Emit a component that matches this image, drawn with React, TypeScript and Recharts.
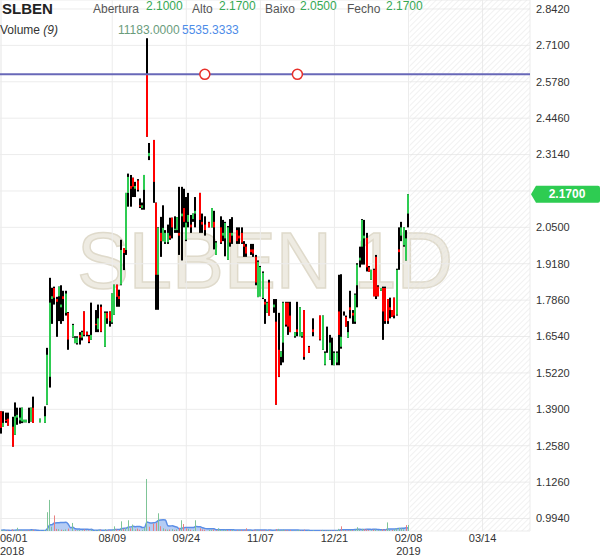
import React from 'react';
import {
  ComposedChart, Bar, Area, XAxis, YAxis, CartesianGrid,
  ReferenceLine, ReferenceDot, ReferenceArea, Label,
} from 'recharts';

// daily OHLC, null = no trades that day
const opens = [
  1.383, 1.326, 1.352, 1.356, null, 1.327, 1.298, 1.36, 1.35, 1.346,
  1.343, 1.343, 1.35, 1.346, 1.396, null, null, 1.343, null, 1.341,
  1.407, 1.508, 1.79, 1.83, 1.79, 1.80, 1.76, 1.80, 1.74, 1.74,
  null, 1.652, 1.63, 1.63, 1.66, 1.65, 1.745, 1.67, 1.655, 1.642,
  null, 1.70, 1.68, 1.762, null, 1.617, 1.74, 1.745, 1.705, 1.733,
  1.842, 1.80, 1.842, 1.975, 1.968, 2.175, 2.20, 2.23, 2.19, 2.22,
  2.13, 2.12, 2.186, 2.603, 2.308, null, 2.367, 2.139, 1.878, 2.03,
  2.00, 1.996, 1.996, 2.02, 2.085, 2.04, 2.04, 2.03, 2.09, 2.12,
  2.005, 2.07, 2.06, 2.08, 2.10, null, 2.175, 2.07, 2.06, null,
  2.068, 2.05, 2.07, 1.95, null, 2.05, 2.02, 2.01, 1.932, 2.03,
  2.02, null, 2.04, 2.02, 2.03, 1.99, 1.98, null, 1.97, 1.97,
  1.943, 1.797, 1.80, 1.794, 1.78, 1.74, 1.85, null, 1.76, 1.708,
  1.606, 1.58, 1.632, 1.777, 1.777, 1.73, null, 1.655, 1.68, 1.655,
  1.655, 1.75, null, 1.617, null, 1.68, null, null, 1.73, 1.606,
  1.552, 1.63, 1.57, 1.60, 1.55, 1.56, 1.745, 1.617, 1.74, 1.725,
  1.65, 1.76, 1.74, 1.708, 1.84, 1.93, 1.98, 2.01, 2.012, 1.905,
  1.86, 1.896, 1.943, 1.835, 1.82, 1.83, 1.83, 1.79, 1.76, 1.75,
  1.795, 1.733, 1.97, 2.02, 1.985, 1.93, 2.10,
];
const highs = [
  1.383, 1.383, 1.378, 1.378, null, 1.363, 1.415, 1.396, 1.396, 1.396,
  1.352, 1.352, 1.396, 1.396, 1.436, null, null, 1.356, null, 1.401,
  1.613, 1.867, 1.831, 1.835, 1.798, 1.835, 1.84, 1.82, 1.82, 1.743,
  null, 1.70, 1.655, 1.655, 1.67, 1.675, 1.745, 1.672, 1.66, 1.777,
  null, 1.75, 1.77, 1.77, null, 1.745, 1.745, 1.745, 1.81, 1.842,
  1.842, 1.824, 2.005, 1.975, 2.175, 2.245, 2.24, 2.23, 2.215, 2.225,
  2.155, 2.14, 2.24, 2.736, 2.356, null, 2.367, 2.14, 2.05, 2.088,
  2.13, 2.04, 2.06, 2.085, 2.085, 2.09, 2.087, 2.197, 2.197, 2.19,
  2.16, 2.175, 2.095, 2.10, 2.16, null, 2.175, 2.10, 2.09, null,
  2.07, 2.12, 2.11, 2.0, null, 2.09, 2.077, 2.07, 2.055, 2.08,
  2.087, null, 2.05, 2.05, 2.05, 2.0, 1.99, null, 1.99, 1.99,
  1.95, 1.93, 1.91, 1.89, 1.79, 1.78, 1.86, null, 1.79, 1.79,
  1.74, 1.60, 1.78, 1.78, 1.78, 1.78, null, 1.67, 1.78, 1.76,
  1.67, 1.75, null, 1.62, null, 1.72, null, null, 1.73, 1.73,
  1.60, 1.69, 1.66, 1.65, 1.60, 1.60, 1.878, 1.88, 1.745, 1.73,
  1.71, 1.82, 1.75, 1.81, 1.92, 1.98, 2.08, 2.077, 2.03, 1.91,
  1.896, 1.90, 1.95, 1.84, 1.83, 1.835, 1.835, 1.79, 1.795, 1.75,
  1.795, 1.90, 2.05, 2.07, 2.05, 2.04, 2.17,
];
const lows = [
  1.302, 1.326, 1.341, 1.331, null, 1.255, 1.298, 1.334, 1.338, 1.34,
  1.343, 1.343, 1.34, 1.346, 1.341, null, null, 1.343, null, 1.341,
  1.407, 1.469, 1.70, 1.77, 1.653, 1.71, 1.70, 1.71, 1.73, 1.606,
  null, 1.65, 1.63, 1.625, 1.625, 1.64, 1.655, 1.655, 1.63, 1.642,
  null, 1.67, 1.67, 1.67, null, 1.617, 1.70, 1.69, 1.70, 1.733,
  1.762, 1.762, 1.84, 1.895, 1.95, 2.125, 2.125, 2.16, 2.16, 2.18,
  2.12, 2.114, 2.114, 2.379, 2.294, null, 2.139, 1.751, 1.751, 1.943,
  2.00, 1.99, 1.99, 2.005, 2.01, 2.03, 2.03, 1.95, 1.93, 2.05,
  2.0, 2.05, 2.03, 2.07, 2.05, null, 2.03, 2.03, 2.02, null,
  2.05, 2.05, 1.97, 1.95, null, 1.99, 2.0, 1.945, 1.932, 1.98,
  1.99, null, 1.99, 1.99, 1.99, 1.943, 1.943, null, 1.95, 1.943,
  1.84, 1.797, 1.80, 1.79, 1.70, 1.74, 1.73, null, 1.74, 1.407,
  1.507, 1.55, 1.56, 1.69, 1.66, 1.67, null, 1.65, 1.655, 1.655,
  1.65, 1.57, null, 1.595, null, 1.655, null, null, 1.64, 1.606,
  1.55, 1.595, 1.57, 1.55, 1.55, 1.55, 1.55, 1.61, 1.73, 1.69,
  1.65, 1.72, 1.70, 1.70, 1.76, 1.905, 1.915, 1.915, 1.89, 1.889,
  1.86, 1.80, 1.79, 1.80, 1.82, 1.642, 1.70, 1.70, 1.72, 1.725,
  1.72, 1.73, 1.896, 2.0, 1.98, 1.93, 2.05,
];
const closes = [
  1.323, 1.341, 1.348, 1.331, null, 1.255, 1.365, 1.37, 1.36, 1.396,
  1.352, 1.352, 1.35, 1.396, 1.341, null, null, 1.356, null, 1.365,
  1.588, 1.777, 1.80, 1.795, 1.78, 1.835, 1.77, 1.79, 1.81, 1.643,
  null, 1.696, 1.65, 1.65, 1.65, 1.67, 1.66, 1.66, 1.635, 1.66,
  null, 1.695, 1.72, 1.672, null, 1.74, 1.72, 1.71, 1.81, 1.842,
  1.798, 1.79, 1.968, 1.957, 2.175, 2.233, 2.19, 2.197, 2.20, 2.186,
  2.125, 2.13, 2.24, 2.379, 2.32, null, 2.215, 1.878, 2.048, 2.00,
  2.048, 2.03, 2.03, 2.01, 2.05, 2.045, 2.087, 2.02, 2.10, 2.07,
  2.067, 2.095, 2.05, 2.10, 2.11, null, 2.077, 2.06, 2.04, null,
  2.05, 2.12, 2.05, 1.995, null, 1.995, 2.03, 2.066, 2.05, 1.995,
  2.03, null, 2.0, 2.01, 1.995, 1.98, 1.955, null, 1.96, 1.955,
  1.85, 1.925, 1.906, 1.885, 1.77, 1.777, 1.73, null, 1.77, 1.407,
  1.508, 1.60, 1.777, 1.697, 1.69, 1.67, null, 1.67, 1.67, 1.76,
  1.67, 1.58, null, 1.595, null, 1.67, null, null, 1.643, 1.73,
  1.595, 1.63, 1.632, 1.60, 1.595, 1.595, 1.66, 1.653, 1.74, 1.69,
  1.67, 1.75, 1.73, 1.806, 1.915, 1.94, 2.077, 2.02, 1.905, 1.889,
  1.896, 1.80, 1.80, 1.80, 1.83, 1.745, 1.71, 1.71, 1.75, 1.725,
  1.73, 1.896, 1.96, 2.05, 2.05, 2.01, 2.17,
];
const volumes = [
  1500, 2200, 900, 1200, 0, 3000, 1800, 6000, 1200, 2000,
  800, 700, 1500, 1900, 2500, 0, 0, 600, 0, 1800,
  35000, 58000, 8000, 29000, 4000, 3500, 2500, 2000, 3000, 4500,
  0, 15000, 1500, 1200, 1800, 1400, 3000, 900, 1100, 2600,
  0, 1500, 2200, 2500, 0, 3500, 1200, 1500, 2500, 8700,
  3000, 2000, 18000, 4000, 6000, 20000, 5000, 12000, 3000, 4500,
  2500, 2000, 6000, 97000, 8000, 0, 14000, 15000, 33000, 9000,
  5000, 3000, 2500, 2800, 3500, 2000, 3000, 6000, 20000, 13000,
  5000, 4000, 2500, 2000, 20000, 0, 5000, 3000, 2500, 0,
  2000, 2500, 3000, 1500, 5000, 2000, 1500, 2500, 2000, 1800,
  2200, 0, 1500, 1200, 2000, 1800, 5000, 0, 1200, 1500,
  2500, 2000, 1800, 1500, 2200, 1200, 1800, 0, 1000, 3500,
  4000, 1500, 2500, 1800, 1500, 2000, 0, 800, 1500, 2000,
  900, 2500, 0, 1000, 0, 1200, 0, 0, 1500, 2000,
  1000, 1200, 1500, 1000, 900, 1100, 4000, 8700, 1500, 1800,
  1200, 2000, 1500, 2500, 7000, 3000, 4000, 3500, 3000, 1500,
  1200, 2500, 3000, 1500, 800, 3500, 3000, 16000, 2500, 2000,
  3000, 5000, 6000, 5000, 3000, 11000, 11183,
];

const dateTicks = [0, 48, 80, 112, 144, 176, 208];
const dateLabels = ['06/01', '08/09', '09/24', '11/07', '12/21', '02/08', '03/14'];
const yearLabels = ['2018', '', '', '', '', '2019', ''];
const priceTicks = [0.994, 1.126, 1.258, 1.39, 1.522, 1.654, 1.786, 1.918, 2.05, 2.182, 2.314, 2.446, 2.578, 2.71, 2.842];
const SLOTS = 229;
const levelLine = 2.605;
const levelHandles = [88, 128];
const lastPrice = 2.17;

const GREEN = '#2ecc52';
const HEAD_GREEN = '#35a853';

// 9-period moving average of volume (the "Volume (9)" indicator)
const volMA = volumes.map((_, i) => {
  const win = volumes.slice(Math.max(0, i - 8), i + 1);
  return win.reduce((a, b) => a + b, 0) / win.length;
});

const rows = Array.from({ length: SLOTS }, (_, i) => {
  const has = i < opens.length && opens[i] != null;
  let prev: number | null = null;
  for (let j = i - 1; j >= 0; j--) {
    if (closes[j] != null) { prev = closes[j] as number; break; }
  }
  return {
    i,
    open: has ? opens[i] : null,
    high: has ? highs[i] : null,
    low: has ? lows[i] : null,
    close: has ? closes[i] : null,
    vol: i < volumes.length ? volumes[i] : null,
    ma: i < volumes.length ? volMA[i] : null,
    up: has && prev != null ? (closes[i] as number) >= prev : true,
  };
});

const Candle = (props: any) => {
  const { payload } = props;
  let { y, height } = props;
  if (payload.high == null) return null;
  const x = Math.round(props.x);
  if (height < 0) { y += height; height = -height; }
  const range = payload.high - payload.low;
  const k = range > 0 ? height / range : 0;
  const yo = y + (payload.high - payload.open) * k;
  const yc = y + (payload.high - payload.close) * k;
  const top = Math.min(yo, yc);
  const h = Math.abs(yo - yc);
  const col = payload.close > payload.open ? GREEN : '#ff0000';
  return (
    <g>
      <rect x={x} y={y} width={2} height={Math.max(height, 1)} fill="#000" />
      {h >= 0.6 && <rect x={x} y={top} width={2} height={h} fill={col} />}
    </g>
  );
};

const VolBar = (props: any) => {
  const { x, y, width, height, payload } = props;
  if (!payload.vol) return null;
  return <rect x={Math.round(x + width / 2 - 0.5)} y={y} width={1} height={Math.max(height, 1)} fill={payload.up ? '#7fc497' : '#e88080'} />;
};

const DateTick = (props: any) => {
  const { x, y, payload } = props;
  const k = dateTicks.indexOf(payload.value);
  if (k < 0) return null;
  const first = k === 0;
  return (
    <g>
      <text x={first ? 0 : x} y={y + 11} textAnchor={first ? 'start' : 'middle'} fontSize={11} fill="#333">{dateLabels[k]}</text>
      {yearLabels[k] && (
        <text x={first ? 0 : x} y={y + 24} textAnchor={first ? 'start' : 'middle'} fontSize={11} fill="#333">{yearLabels[k]}</text>
      )}
    </g>
  );
};

const PriceTag = (props: any) => {
  const vb = props.viewBox || {};
  const x = vb.x + vb.width + 1;
  const y = vb.y;
  return (
    <g>
      <path d={`M${x} ${y} L${x + 5} ${y - 8.5} H${x + 67} Q${x + 69} ${y - 8.5} ${x + 69} ${y - 6.5} V${y + 6.5} Q${x + 69} ${y + 8.5} ${x + 67} ${y + 8.5} H${x + 5} Z`} fill={GREEN} />
      <text x={x + 36} y={y + 4} textAnchor="middle" fontSize={12} fontWeight="bold" fill="#fff">{lastPrice.toFixed(4)}</text>
    </g>
  );
};

export default function App() {
  return (
    <div style={{ position: 'absolute', left: 0, top: 0, width: 600, height: 558, background: '#fff', overflow: 'hidden', fontFamily: '"Liberation Sans", Arial, sans-serif' }}>
      <svg width={600} height={558} style={{ position: 'absolute', left: 0, top: 0 }}>
        <text x={77} y={288} fontSize={80} fill="#eeebe2" stroke="#dfdacb" strokeWidth={1.5} textLength={376} lengthAdjust="spacingAndGlyphs">SLBEN 1D</text>
      </svg>
      <div style={{ position: 'absolute', left: 0, top: 0 }}>
        <ComposedChart width={600} height={558} data={rows} margin={{ top: 0, right: 0, bottom: 0, left: 0 }}>
          <defs>
            <pattern id="hatch" width="4" height="4" patternUnits="userSpaceOnUse" patternTransform="rotate(45)">
              <line x1="0" y1="0" x2="0" y2="4" stroke="#e4e4e4" strokeWidth="1" />
            </pattern>
          </defs>
          <XAxis xAxisId="p" dataKey="i" type="category" height={27} ticks={dateTicks} interval={0}
            tick={<DateTick />} tickLine={false} axisLine={false} tickSize={0} tickMargin={0} />
          <XAxis xAxisId="v" dataKey="i" type="category" hide />
          <YAxis yAxisId="p" orientation="right" width={70} domain={[0.9487, 2.8746]} allowDataOverflow
            ticks={priceTicks} interval={0} axisLine={false} tickLine={false} tickSize={4} tickMargin={2}
            tick={{ fill: '#333', fontSize: 11 }}
            tickFormatter={(v: number) => (Math.abs(v - 2.182) < 1e-6 ? '' : v.toFixed(4))} />
          <YAxis yAxisId="v" hide domain={[0, 990000]} allowDataOverflow />
          <ReferenceArea xAxisId="p" yAxisId="p" x1={177} x2={228} fill="url(#hatch)" fillOpacity={1} stroke="none" />
          <CartesianGrid xAxisId="p" yAxisId="p" stroke="#ececec" />
          <Area xAxisId="v" yAxisId="v" dataKey="ma" type="monotone" stroke="#5b8ee6" strokeWidth={1.5}
            fill="#a8c3f2" fillOpacity={0.85} dot={false} activeDot={false} isAnimationActive={false} />
          <Bar xAxisId="v" yAxisId="v" dataKey="vol" barSize={2} shape={VolBar} isAnimationActive={false} />
          <Bar xAxisId="p" yAxisId="p" dataKey={(d: any) => (d.high == null ? null : [d.low, d.high])}
            barSize={2} shape={Candle} isAnimationActive={false} />
          <ReferenceLine xAxisId="p" yAxisId="p" y={levelLine} stroke="#6868b8" strokeWidth={2} />
          {levelHandles.map((h) => (
            <ReferenceDot key={h} xAxisId="p" yAxisId="p" x={h} y={levelLine} r={5} fill="#fff" stroke="#e8302a" strokeWidth={1.5} />
          ))}
          <ReferenceLine xAxisId="p" yAxisId="p" y={lastPrice} stroke="none">
            <Label content={<PriceTag />} />
          </ReferenceLine>
        </ComposedChart>
      </div>
      <svg width={600} height={40} style={{ position: 'absolute', left: 0, top: 0, pointerEvents: 'none' }}>
        <text x={2} y={14} fontSize={15} fontWeight="bold" fill="#222">SLBEN</text>
        <text x={93} y={13} fontSize={12} fill="#555">Abertura</text>
        <text x={146} y={10} fontSize={12} fill={HEAD_GREEN}>2.1000</text>
        <text x={192} y={13} fontSize={12} fill="#555">Alto</text>
        <text x={219} y={10} fontSize={12} fill={HEAD_GREEN}>2.1700</text>
        <text x={265} y={13} fontSize={12} fill="#555">Baixo</text>
        <text x={300} y={10} fontSize={12} fill={HEAD_GREEN}>2.0500</text>
        <text x={347} y={13} fontSize={12} fill="#555">Fecho</text>
        <text x={386} y={10} fontSize={12} fill={HEAD_GREEN}>2.1700</text>
        <text x={0} y={34} fontSize={12} fill="#333">Volume <tspan fontStyle="italic">(9)</tspan></text>
        <text x={118} y={34} fontSize={12} fill="#6a9c7c">11183.0000</text>
        <text x={182} y={34} fontSize={12} fill="#4d8ce8">5535.3333</text>
      </svg>
    </div>
  );
}
